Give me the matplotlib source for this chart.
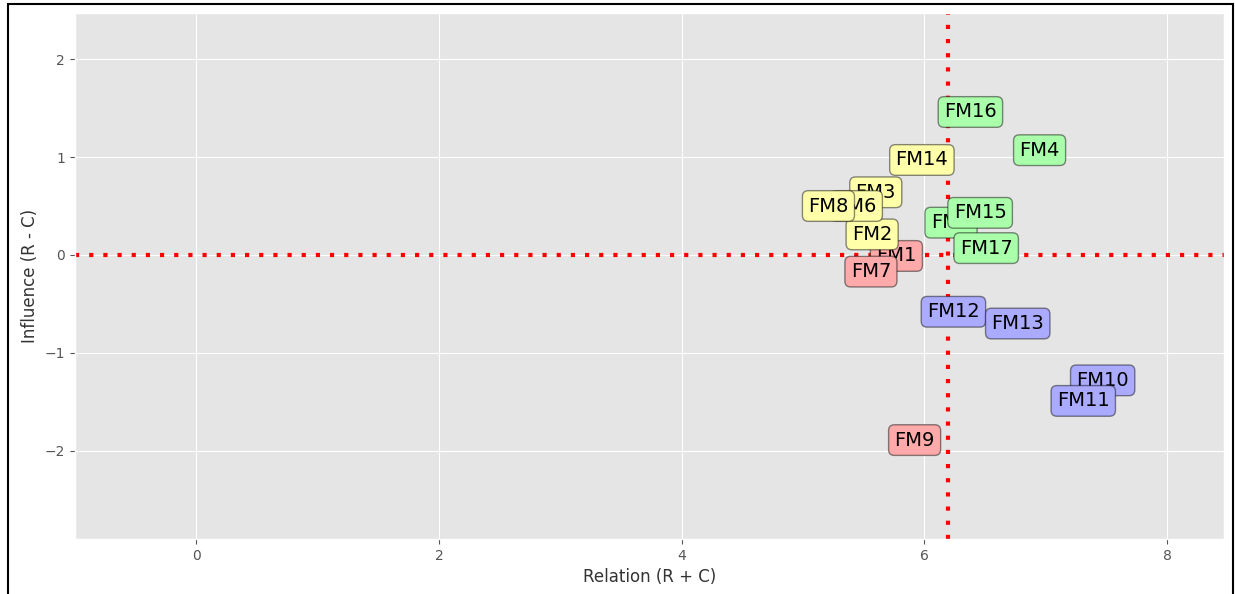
import numpy as np
import matplotlib
import matplotlib.pyplot as plt
from matplotlib.patches import Rectangle

matplotlib.use('Agg')
plt.style.use('ggplot')

# DEMATEL results
names = ['FM1', 'FM2', 'FM3', 'FM4', 'FM5', 'FM6', 'FM7', 'FM8', 'FM9',
         'FM10', 'FM11', 'FM12', 'FM13', 'FM14', 'FM15', 'FM16', 'FM17']
relation = [5.77, 5.57, 5.60, 6.95, 6.22, 5.44, 5.56, 5.21, 5.92,
            7.47, 7.31, 6.24, 6.77, 5.98, 6.46, 6.38, 6.51]
influence = [-0.01, 0.21, 0.64, 1.07, 0.33, 0.50, -0.17, 0.50, -1.89,
             -1.28, -1.49, -0.58, -0.70, 0.97, 0.43, 1.46, 0.07]

quadrant_colors = {
    'high_cause': '#aaffaa',
    'low_cause': '#ffffaa',
    'low_effect': '#ffaaaa',
    'high_effect': '#aaaaff',
}

x_mean = np.mean(relation)
y_mid = 0.0

fig = plt.figure(figsize=(12.35, 5.94), dpi=100)
ax = fig.add_axes([0.0607, 0.0926, 0.9304, 0.8854])

for name, x, y in zip(names, relation, influence):
    if x >= x_mean and y >= y_mid:
        c = quadrant_colors['high_cause']
    elif x < x_mean and y >= y_mid:
        c = quadrant_colors['low_cause']
    elif x < x_mean:
        c = quadrant_colors['low_effect']
    else:
        c = quadrant_colors['high_effect']
    ax.text(x, y, name, fontsize=14, ha='center', va='center', color='black',
            bbox=dict(boxstyle='round,pad=0.3', facecolor=c,
                      edgecolor=(0, 0, 0, 0.45), linewidth=1))

ax.axvline(x_mean, color='red', linestyle=(0, (1, 2.4)), linewidth=3)
ax.axhline(y_mid, color='red', linestyle=(0, (1, 2.4)), linewidth=3)

ax.set_xlim(-1.0, 8.47)
ax.set_ylim(-2.9, 2.47)
ax.set_xticks([0, 2, 4, 6, 8])
ax.set_yticks([-2, -1, 0, 1, 2])
ax.set_xlabel('Relation (R + C)', color='#333333')
ax.set_ylabel('Influence (R - C)', color='#333333')

# frame around the screenshot
fig.patches.append(Rectangle((8 / 1235, -0.02), 1225 / 1235, 1 - 4 / 594 + 0.02,
                             transform=fig.transFigure, fill=False,
                             edgecolor='black', linewidth=1.5))

fig.savefig('out.png', dpi=100)
